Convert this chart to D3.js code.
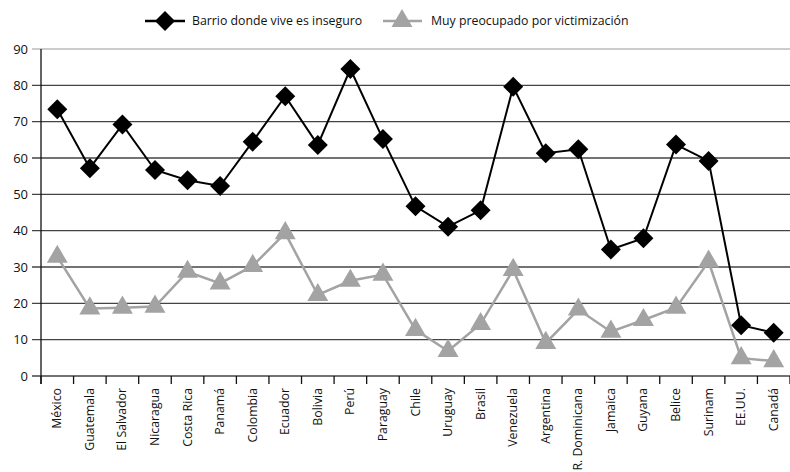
<!DOCTYPE html>
<html lang="es">
<head>
<meta charset="utf-8">
<title>Inseguridad y victimización</title>
<script src="https://d3js.org/d3.v7.min.js"></script>
<style>
  body { margin: 0; background: #fff; }
  text { font-family: "Open Sans", "Noto Sans", sans-serif; fill: #111; }
</style>
</head>
<body>
<script>
// data
const countries = ["México", "Guatemala", "El Salvador", "Nicaragua", "Costa Rica", "Panamá",
  "Colombia", "Ecuador", "Bolivia", "Perú", "Paraguay", "Chile", "Uruguay", "Brasil",
  "Venezuela", "Argentina", "R. Dominicana", "Jamaica", "Guyana", "Belice", "Surinam",
  "EE.UU.", "Canadá"];
const inseguro = [73.4, 57.2, 69.2, 56.7, 53.9, 52.3, 64.5, 77, 63.6, 84.5, 65.2, 46.7,
  41.1, 45.6, 79.6, 61.3, 62.4, 34.8, 37.9, 63.7, 59.2, 14, 11.9];
const victimizacion = [32.8, 18.6, 18.8, 19.1, 28.7, 25.5, 30.3, 39.3, 22.3, 26.2, 27.9,
  12.7, 6.9, 14.3, 29.2, 9.1, 18.3, 12.2, 15.4, 18.8, 31.5, 4.9, 4.1];
const yTicks = [0, 10, 20, 30, 40, 50, 60, 70, 80, 90];
const seriesNames = ["Barrio donde vive es inseguro", "Muy preocupado por victimización"];

const width = 790, height = 472;
const margin = { top: 49, right: 0, bottom: 96, left: 41 };

const svg = d3.select("body").append("svg")
  .attr("width", width)
  .attr("height", height);

const x = d3.scaleBand()
  .domain(countries)
  .range([margin.left, width - margin.right])
  .padding(0);

const y = d3.scaleLinear()
  .domain([0, 90])
  .range([height - margin.bottom, margin.top]);

const grey = "#a3a3a3";

// gridlines + y labels
svg.append("g")
  .selectAll("line")
  .data(yTicks)
  .join("line")
  .attr("x1", margin.left - 9)
  .attr("x2", width)
  .attr("y1", d => y(d))
  .attr("y2", d => y(d))
  .attr("stroke", d => d === 90 ? "#bbb" : "#444")
  .attr("stroke-width", 1.4);

svg.append("g")
  .selectAll("text")
  .data(yTicks)
  .join("text")
  .attr("x", margin.left - 13)
  .attr("y", d => y(d))
  .attr("dy", "0.35em")
  .attr("text-anchor", "end")
  .style("font-size", "13px")
  .text(d => d);

// y axis line
svg.append("line")
  .attr("x1", margin.left).attr("x2", margin.left)
  .attr("y1", y(90)).attr("y2", y(0) + 8)
  .attr("stroke", "#111").attr("stroke-width", 1.3);

// x ticks at band boundaries
const bounds = countries.map(c => x(c)).concat([x(countries[countries.length - 1]) + x.bandwidth()]);
svg.append("g")
  .selectAll("line")
  .data(bounds)
  .join("line")
  .attr("x1", d => d).attr("x2", d => d)
  .attr("y1", y(0)).attr("y2", y(0) + 8)
  .attr("stroke", "#111").attr("stroke-width", 1.3);

// x labels
svg.append("g")
  .selectAll("text")
  .data(countries)
  .join("text")
  .attr("transform", d => `translate(${x(d) + x.bandwidth() / 2 + 4},${y(0) + 12}) rotate(-90)`)
  .attr("text-anchor", "end")
  .style("font-size", "12.3px")
  .text(d => d);

const line = d3.line()
  .x((d, i) => x(countries[i]) + x.bandwidth() / 2)
  .y(d => y(d));

// gray series
svg.append("path")
  .datum(victimizacion)
  .attr("d", line)
  .attr("fill", "none")
  .attr("stroke", grey)
  .attr("stroke-width", 2.5);

const tri = d3.symbol().type(d3.symbolTriangle).size(190);
svg.append("g")
  .selectAll("path")
  .data(victimizacion)
  .join("path")
  .attr("transform", (d, i) => `translate(${x(countries[i]) + x.bandwidth() / 2},${y(d)})`)
  .attr("d", tri)
  .attr("fill", grey);

// black series
svg.append("path")
  .datum(inseguro)
  .attr("d", line)
  .attr("fill", "none")
  .attr("stroke", "#000")
  .attr("stroke-width", 2);

const dia = d3.symbol().type(d3.symbolSquare).size(200);
svg.append("g")
  .selectAll("path")
  .data(inseguro)
  .join("path")
  .attr("transform", (d, i) => `translate(${x(countries[i]) + x.bandwidth() / 2},${y(d)}) rotate(45)`)
  .attr("d", dia)
  .attr("fill", "#000");

// legend
const legend = svg.append("g");
const leg1 = legend.append("g").attr("transform", "translate(145,21)");
leg1.append("line").attr("x1", 0).attr("x2", 40).attr("stroke", "#000").attr("stroke-width", 2.5);
leg1.append("path").attr("d", dia).attr("transform", "translate(20,0) rotate(45)").attr("fill", "#000");
leg1.append("text").attr("x", 47).attr("dy", "0.35em").style("font-size", "12.3px").text(seriesNames[0]);

const leg2 = legend.append("g").attr("transform", "translate(383,21)");
leg2.append("line").attr("x1", 0).attr("x2", 39).attr("stroke", grey).attr("stroke-width", 2.5);
leg2.append("path").attr("d", tri).attr("transform", "translate(19,0)").attr("fill", grey);
leg2.append("text").attr("x", 48).attr("dy", "0.35em").style("font-size", "12.3px").text(seriesNames[1]);
</script>
</body>
</html>
